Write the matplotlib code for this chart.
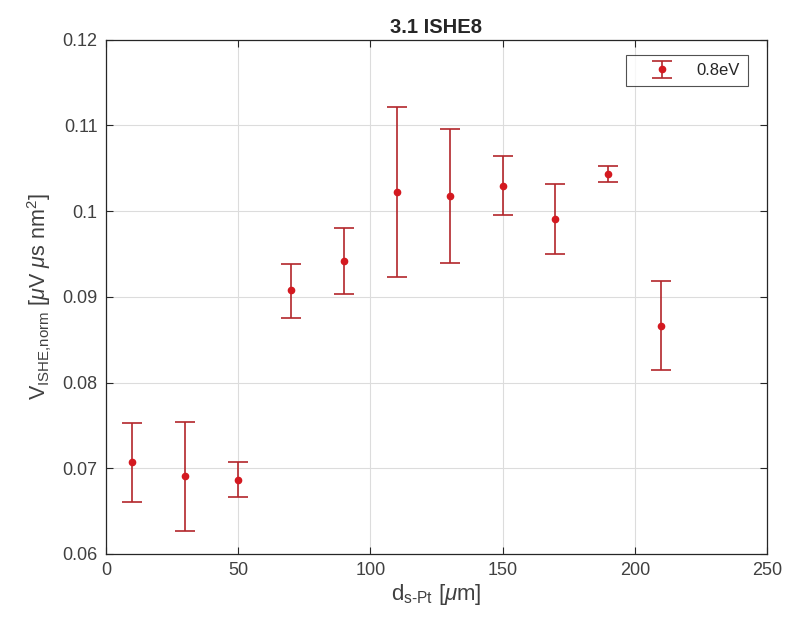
import matplotlib
matplotlib.use("Agg")
import matplotlib.pyplot as plt
import numpy as np

plt.rcParams['font.family'] = ['Liberation Sans', 'DejaVu Sans']
plt.rcParams['mathtext.fontset'] = 'custom'
plt.rcParams['mathtext.rm'] = 'Liberation Sans'
plt.rcParams['mathtext.it'] = 'Liberation Sans:italic'

# Distance from the Pt strip and normalised ISHE voltage
distance = [10, 30, 50, 70, 90, 110, 130, 150, 170, 190, 210]
v_norm = [0.0707, 0.0691, 0.0686, 0.0908, 0.0942, 0.1022, 0.1018, 0.1029, 0.0991, 0.1043, 0.0866]
v_low = [0.0661, 0.0627, 0.0666, 0.0875, 0.0903, 0.0923, 0.0939, 0.0995, 0.0950, 0.1034, 0.0814]
v_high = [0.0753, 0.0754, 0.0707, 0.0938, 0.0980, 0.1121, 0.1096, 0.1064, 0.1032, 0.1052, 0.0918]

x_ticks = [0, 50, 100, 150, 200, 250]
y_ticks = [0.06, 0.07, 0.08, 0.09, 0.1, 0.11, 0.12]
y_ticklabels = ['0.06', '0.07', '0.08', '0.09', '0.1', '0.11', '0.12']

v = np.array(v_norm)
yerr = np.vstack([v - np.array(v_low), np.array(v_high) - v])

fig = plt.figure(figsize=(7.87, 6.35), dpi=100)
ax_w, ax_h = 661, 514.5
ax = fig.add_axes([106/787, 81/635, ax_w/787, ax_h/635])

ax.errorbar(distance, v_norm, yerr=yerr, fmt='o', markersize=4.5,
            color='#d41920', ecolor='#b3262b', elinewidth=1.2, capsize=7,
            capthick=1.2, label='0.8eV', zorder=3)

ax.set_xlim(0, 250)
ax.set_ylim(0.06, 0.12)
ax.set_xticks(x_ticks)
ax.set_yticks(y_ticks)
ax.set_yticklabels(y_ticklabels)
ax.grid(True, color='#dcdcdc', linewidth=0.8)
ax.set_axisbelow(True)

for s in ax.spines.values():
    s.set_color('#262626')
    s.set_linewidth(0.9)
ax.tick_params(direction='in', length=5, width=0.8, colors='#262626',
               labelcolor='#404040', labelsize=13, pad=6)
ax.tick_params(top=True, right=True)

ax.set_xlabel(r'd$_{\rm s\text{-}Pt}$ [$\mu$m]', fontsize=16, color='#404040',
              labelpad=2)
ax.set_ylabel(r'V$_{\rm ISHE{,}norm}$ [$\mu$V $\mu$s nm$^2$]', fontsize=15.5,
              color='#404040', labelpad=6)
ax.set_title('3.1 ISHE8', fontsize=14.5, fontweight='bold', color='#262626', pad=5)

leg = ax.legend(loc='upper right', fontsize=12, frameon=True, fancybox=False,
                bbox_to_anchor=(1 - 19/ax_w, 1 - 15.5/ax_h),
                bbox_transform=ax.transAxes, borderaxespad=0,
                handlelength=3.3, handletextpad=0.45, borderpad=0.48)
leg.get_frame().set_edgecolor('#262626')
leg.get_frame().set_linewidth(0.8)
for t in leg.get_texts():
    t.set_color('#262626')

fig.savefig('out.png', dpi=100, facecolor='white')
